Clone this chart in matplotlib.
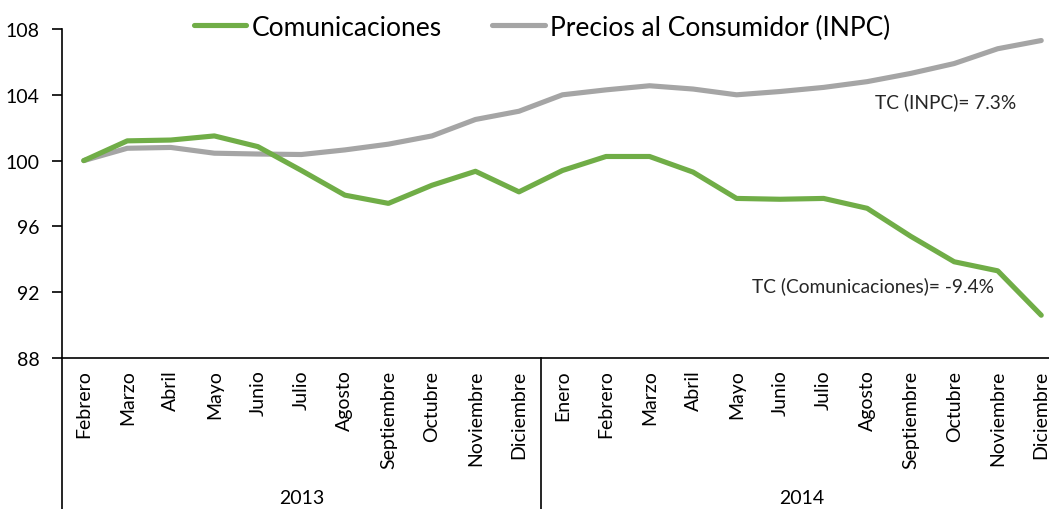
import matplotlib
matplotlib.use("Agg")
import matplotlib.pyplot as plt
from matplotlib.lines import Line2D

months = ["Febrero", "Marzo", "Abril", "Mayo", "Junio", "Julio", "Agosto",
          "Septiembre", "Octubre", "Noviembre", "Diciembre",
          "Enero", "Febrero", "Marzo", "Abril", "Mayo", "Junio", "Julio",
          "Agosto", "Septiembre", "Octubre", "Noviembre", "Diciembre"]
years = ["2013", "2014"]
year_counts = [11, 12]

comunicaciones = [100.0, 101.2, 101.25, 101.5, 100.85, 99.4, 97.9, 97.4, 98.5, 99.35, 98.1,
                  99.4, 100.25, 100.25, 99.3, 97.7, 97.65, 97.7, 97.1, 95.4, 93.85, 93.3, 90.6]
inpc = [100.0, 100.75, 100.8, 100.45, 100.4, 100.37, 100.65, 101.0, 101.5, 102.5, 103.0,
        104.0, 104.3, 104.55, 104.35, 104.0, 104.2, 104.45, 104.8, 105.3, 105.9, 106.8, 107.3]

GREEN = "#70AD47"
GRAY = "#A5A5A5"
TEXT = "#262626"

plt.rcParams['font.family'] = ['Lato', 'DejaVu Sans']

fig = plt.figure(figsize=(10.49, 5.10), dpi=100)
left_px, right_px, top_px, bot_px = 62, 1063, 30, 359
W, H = 1049, 510
ax = fig.add_axes([left_px / W, 1 - bot_px / H, (right_px - left_px) / W, (bot_px - top_px) / H])

x = list(range(len(months)))
ax.plot(x, comunicaciones, color=GREEN, lw=3.7, solid_capstyle='round', solid_joinstyle='round', zorder=3)
ax.plot(x, inpc, color=GRAY, lw=3.7, solid_capstyle='round', solid_joinstyle='round', zorder=2)

ax.set_xlim(-0.5, len(months) - 0.5)
ax.set_ylim(88, 108)
ax.set_yticks([88, 92, 96, 100, 104, 108])
ax.tick_params(axis='y', direction='out', length=7, width=1.2, labelsize=14, colors='black', pad=9)
ax.set_xticks([])
for s in ['top', 'right']:
    ax.spines[s].set_visible(False)
ax.spines['left'].set_linewidth(1.2)
ax.spines['bottom'].set_linewidth(1.2)

# month labels
trans = ax.get_xaxis_transform()
for i, m in enumerate(months):
    ax.text(i, -0.035, m, rotation=90, ha='center', va='top', fontsize=14,
            color='black', transform=trans)

# group dividers and year labels
axis_h = (bot_px - top_px)
ext = -(H - bot_px) / axis_h
start = 0
bounds = [-0.5]
for c in year_counts:
    start += c
    bounds.append(start - 0.5)
for b in bounds:
    ax.add_line(Line2D([b, b], [0, ext], transform=trans, color='black', lw=1.2, clip_on=False))
for i, yv in enumerate(years):
    cx = (bounds[i] + bounds[i + 1]) / 2
    ax.text(cx, -(498 - bot_px) / axis_h, yv, ha='center', va='center', fontsize=14,
            color='black', transform=trans)

# annotations
ax.text(18.19, 103.6, "TC (INPC)= 7.3%", fontsize=13.8, color=TEXT, ha='left', va='center')
ax.text(15.36, 92.4, "TC (Comunicaciones)= -9.4%", fontsize=13.8, color=TEXT, ha='left', va='center')

# legend
handles = [Line2D([], [], color=GREEN, lw=3.7, solid_capstyle='round'),
           Line2D([], [], color=GRAY, lw=3.7, solid_capstyle='round')]
fig.legend(handles, ["Comunicaciones", "Precios al Consumidor (INPC)"],
           loc='center', bbox_to_anchor=(542 / W, 1 - 28 / H), ncol=2, frameon=False,
           prop={'family': ['Liberation Sans Narrow', 'Lato'], 'size': 19},
           handlelength=2.0, handletextpad=0.2, columnspacing=1.9)

fig.savefig("out.png", dpi=100)
